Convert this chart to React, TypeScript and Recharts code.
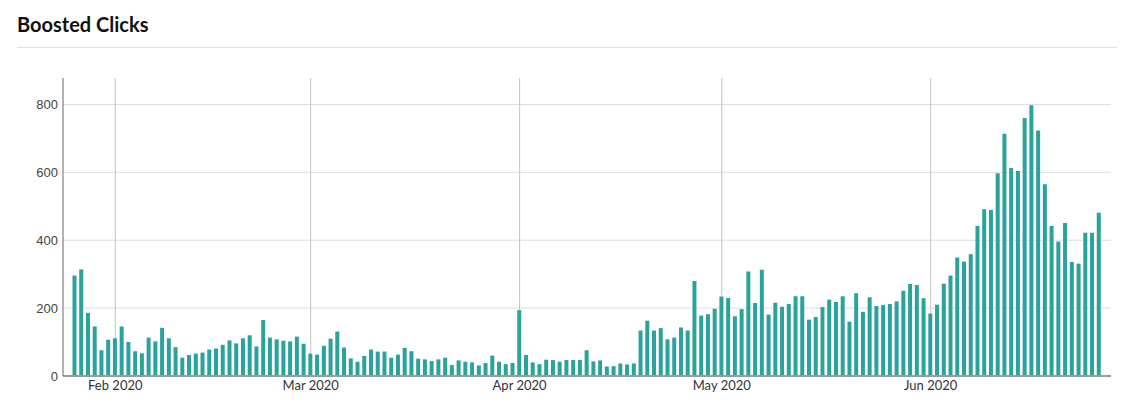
import { BarChart, Bar, XAxis, YAxis, CartesianGrid } from 'recharts';

// Valores diarios (26 ene - 26 jun 2020)
const janValues = [296, 314, 186, 146, 76, 107];
const febValues = [111, 146, 100, 73, 67, 113, 102, 142, 111, 85, 54, 62, 66, 69, 78, 81, 92, 105, 96, 111, 120, 87, 165, 113, 108, 104, 102, 116, 95];
const marValues = [66, 63, 89, 110, 131, 84, 52, 42, 59, 78, 72, 72, 54, 63, 83, 73, 51, 49, 44, 49, 54, 32, 46, 42, 40, 31, 38, 60, 42, 35, 38];
const aprValues = [194, 62, 40, 35, 48, 47, 42, 47, 47, 47, 76, 43, 46, 28, 29, 37, 34, 37, 134, 163, 134, 141, 108, 113, 143, 134, 280, 178, 182, 198];
const mayValues = [234, 230, 176, 197, 308, 215, 313, 181, 216, 204, 212, 235, 235, 166, 174, 203, 225, 218, 235, 160, 244, 189, 232, 206, 209, 212, 220, 251, 271, 268, 229];
const junValues = [184, 210, 272, 296, 349, 337, 359, 442, 491, 489, 597, 714, 613, 604, 760, 798, 723, 565, 442, 396, 451, 336, 331, 422, 422, 481];

// Ticks del eje X: primer día de cada mes (índice desde el 26 ene)
const monthTicks = [6, 35, 66, 96, 127];
const monthLabels = ['Feb 2020', 'Mar 2020', 'Apr 2020', 'May 2020', 'Jun 2020'];
const yTicks = [0, 200, 400, 600, 800];
const yGridValues = [200, 400, 600, 800];

const allValues = [...janValues, ...febValues, ...marValues, ...aprValues, ...mayValues, ...junValues];
const data = allValues.map((clicks, day) => ({ day, clicks }));

const BAR_COLOR = '#29a39c';

export default function App() {
  return (
    <div
      style={{
        position: 'absolute',
        left: 0,
        top: 0,
        width: 1122,
        height: 400,
        background: '#fff',
        fontFamily: 'Lato, sans-serif',
      }}
    >
      <div
        style={{
          position: 'absolute',
          left: 17,
          top: 12,
          fontSize: 20,
          fontWeight: 700,
          lineHeight: '24px',
          color: '#111',
        }}
      >
        Boosted Clicks
      </div>
      <div
        style={{
          position: 'absolute',
          left: 17,
          top: 47,
          width: 1100,
          height: 1,
          background: '#e0e0e0',
        }}
      />
      <div style={{ position: 'absolute', left: 0, top: 0 }}>
        <BarChart
          width={1122}
          height={400}
          data={data}
          margin={{ top: 78, right: 11, bottom: 0, left: 0 }}
          barCategoryGap={0}
        >
          {/* líneas horizontales claras y verticales de mes, detrás de las barras */}
          <CartesianGrid vertical={false} horizontalValues={yGridValues} stroke="#dedede" />
          <CartesianGrid horizontal={false} verticalValues={monthTicks} stroke="#c4c4c4" />
          <XAxis
            dataKey="day"
            type="number"
            domain={[-1.76, 153.76]}
            ticks={monthTicks}
            tickFormatter={(v: number) => monthLabels[monthTicks.indexOf(v)]}
            height={24}
            tickLine={false}
            tickSize={0}
            tickMargin={5}
            axisLine={{ stroke: '#9a9a9a', strokeWidth: 2 }}
            tick={{ fontSize: 13, fill: '#333', fontFamily: 'Lato, sans-serif' }}
            allowDataOverflow
          />
          <YAxis
            width={63}
            domain={[0, 878]}
            ticks={yTicks}
            tickLine={false}
            tickSize={0}
            tickMargin={5}
            axisLine={{ stroke: '#666' }}
            tick={{ fontSize: 13, fill: '#444', fontFamily: '"Liberation Sans", Arial, sans-serif' }}
          />
          <Bar dataKey="clicks" fill={BAR_COLOR} barSize={4} isAnimationActive={false} />
        </BarChart>
      </div>
    </div>
  );
}
